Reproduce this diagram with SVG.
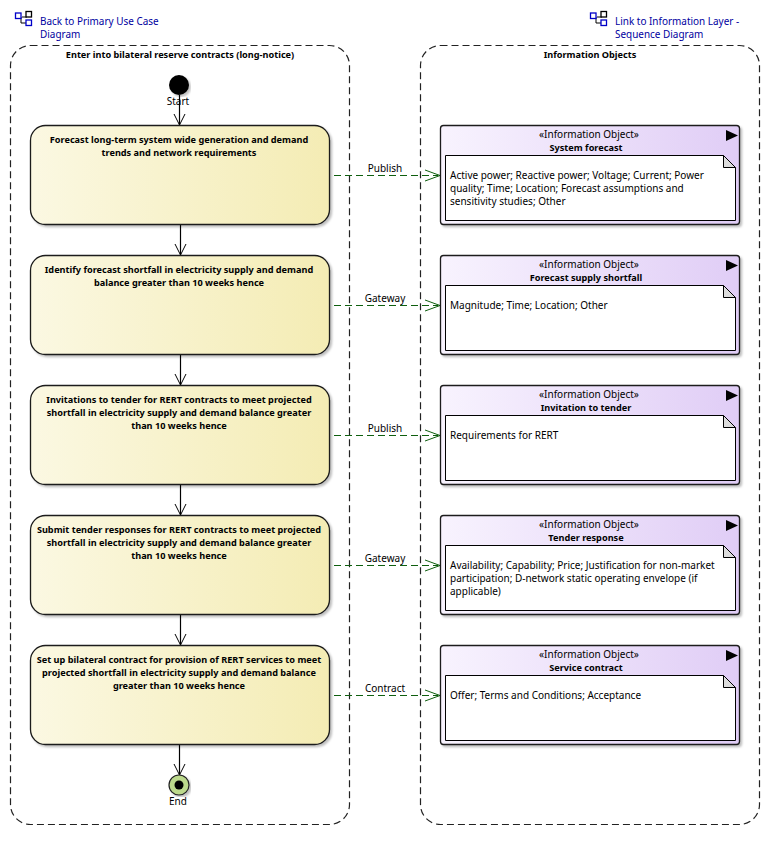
<svg xmlns="http://www.w3.org/2000/svg" width="770" height="841" viewBox="0 0 770 841">
<style>
text{font-family:"Noto Sans","Liberation Sans",sans-serif;font-size:10px;fill:#000}
.b{font-weight:700;font-size:9.17px}
.m{text-anchor:middle}
.link{fill:#0000a0;font-size:9.95px}
.frame{fill:none;stroke:#222;stroke-width:1.2;stroke-dasharray:7 4}
.act{fill:url(#ga);stroke:#1a1a1a;stroke-width:1.3;filter:url(#sh)}
.obj{fill:url(#gb);stroke:#1a1a1a;stroke-width:1.3;filter:url(#sh)}
.note{fill:#fff;stroke:#000;stroke-width:1}
.fold{fill:#ddd;stroke:#000;stroke-width:1}
.flow{fill:none;stroke:#000;stroke-width:1.2;marker-end:url(#oa)}
.info{fill:none;stroke:#0f5f0f;stroke-width:1;stroke-dasharray:7 4}
.ihead{fill:none;stroke:#0f5f0f;stroke-width:1}
.ic{fill:#fff;stroke:#0000c8;stroke-width:1.3}
.ic2{fill:#fff;stroke:#000;stroke-width:1.3}
.icl{fill:none;stroke:#000;stroke-width:1}
</style>
<defs>
<linearGradient id="ga" x1="0" x2="1" y1="0" y2="0"><stop offset="0" stop-color="#fbf8e2"/><stop offset="1" stop-color="#f4ecb4"/></linearGradient>
<linearGradient id="gb" x1="0" x2="1" y1="0" y2="0"><stop offset="0" stop-color="#f8f3fe"/><stop offset="1" stop-color="#e0cdf6"/></linearGradient>
<filter id="sh" x="-5%" y="-5%" width="112%" height="112%"><feDropShadow dx="2" dy="2" stdDeviation="1.2" flood-color="#000" flood-opacity="0.25"/></filter>
<marker id="oa" markerUnits="userSpaceOnUse" markerWidth="14" markerHeight="18" refX="11" refY="7" orient="auto"><path d="M0 1.5L11 7L0 12.5" fill="none" stroke="#000" stroke-width="1"/></marker>
<g id="icon"><path class="icl" d="M7 6H12V3M6 6V12H14"/><rect class="ic" x="0.5" y="2" width="5.5" height="5.5"/><rect class="ic2" x="11" y="0.5" width="5.5" height="5.5"/><rect class="ic" x="11" y="9" width="5.5" height="5.5"/></g>
</defs>

<g id="link-back"><use href="#icon" x="15" y="11"/><text class="link" x="40" y="25">Back to Primary Use Case</text><text class="link" x="40" y="38">Diagram</text></g>
<g id="link-info"><use href="#icon" x="590" y="11"/><text class="link" x="615" y="25">Link to Information Layer -</text><text class="link" x="615" y="38">Sequence Diagram</text></g>

<g id="frame-left"><rect class="frame" x="10.5" y="45.5" width="339" height="779" rx="20"/><text class="b m" x="180" y="58">Enter into bilateral reserve contracts (long-notice)</text></g>
<g id="frame-right"><rect class="frame" x="420.5" y="45.5" width="339" height="779" rx="20"/><text class="b m" x="590" y="58">Information Objects</text></g>

<g id="connectors">
<path class="flow" d="M179.500 95V125"/>
<path class="flow" d="M180.500 224V255"/>
<path class="flow" d="M180.500 354V385"/>
<path class="flow" d="M180.500 484V515"/>
<path class="flow" d="M180.500 614V645"/>
<path class="flow" d="M179.500 744V775"/>
<g id="info-flows">
<path class="info" d="M334 175.500H438"/><path class="ihead" d="M425 170L440 175.500L425 181"/>
<path class="info" d="M334 305.500H438"/><path class="ihead" d="M425 300L440 305.500L425 311"/>
<path class="info" d="M334 435.500H438"/><path class="ihead" d="M425 430L440 435.500L425 441"/>
<path class="info" d="M334 565.500H438"/><path class="ihead" d="M425 560L440 565.500L425 571"/>
<path class="info" d="M334 695.500H438"/><path class="ihead" d="M425 690L440 695.500L425 701"/>
</g>
<text class="m" x="385" y="172">Publish</text>
<text class="m" x="385" y="302">Gateway</text>
<text class="m" x="385" y="432">Publish</text>
<text class="m" x="385" y="562">Gateway</text>
<text class="m" x="385" y="692">Contract</text>
</g>

<g id="start"><circle cx="179" cy="85" r="10" fill="#000" filter="url(#sh)"/><text class="m" x="178" y="105">Start</text></g>

<g id="a1"><rect class="act" x="30.500" y="125.500" width="299" height="99" rx="15"/><text class="b m" x="179" y="143">Forecast long-term system wide generation and demand</text><text class="b m" x="179" y="156">trends and network requirements</text></g>
<g id="a2"><rect class="act" x="30.500" y="255.500" width="299" height="99" rx="15"/><text class="b m" x="179" y="273">Identify forecast shortfall in electricity supply and demand</text><text class="b m" x="179" y="286">balance greater than 10 weeks hence</text></g>
<g id="a3"><rect class="act" x="30.500" y="385.500" width="299" height="99" rx="15"/><text class="b m" x="179" y="403">Invitations to tender for RERT contracts to meet projected</text><text class="b m" x="179" y="416">shortfall in electricity supply and demand balance greater</text><text class="b m" x="179" y="429">than 10 weeks hence</text></g>
<g id="a4"><rect class="act" x="30.500" y="515.500" width="299" height="99" rx="15"/><text class="b m" x="179" y="533">Submit tender responses for RERT contracts to meet projected</text><text class="b m" x="179" y="546">shortfall in electricity supply and demand balance greater</text><text class="b m" x="179" y="559">than 10 weeks hence</text></g>
<g id="a5"><rect class="act" x="30.500" y="645.500" width="299" height="99" rx="15"/><text class="b m" x="179" y="663">Set up bilateral contract for provision of RERT services to meet</text><text class="b m" x="179" y="676">projected shortfall in electricity supply and demand balance</text><text class="b m" x="179" y="689">greater than 10 weeks hence</text></g>

<g id="end"><circle cx="179" cy="785" r="10" fill="#bcd98c" stroke="#222" stroke-width="1.2" filter="url(#sh)"/><circle cx="179" cy="785" r="4.500" fill="#000"/><text class="m" x="178" y="805">End</text></g>

<g id="o1"><rect class="obj" x="440.500" y="125.500" width="299" height="99" rx="3"/><path d="M726 130L738 135.500L726 141Z"/><text class="m" x="589" y="138">«Information Object»</text><text class="b m" x="586" y="151">System forecast</text><path class="note" d="M445.500 155.500H723.500L735.500 167.500V220.500H445.500Z"/><path class="fold" d="M723.500 155.500V167.500H735.500Z"/><text x="450" y="179">Active power; Reactive power; Voltage; Current; Power</text><text x="450" y="192">quality; Time; Location; Forecast assumptions and</text><text x="450" y="205">sensitivity studies; Other</text></g>
<g id="o2"><rect class="obj" x="440.500" y="255.500" width="299" height="99" rx="3"/><path d="M726 260L738 265.500L726 271Z"/><text class="m" x="589" y="268">«Information Object»</text><text class="b m" x="586" y="281">Forecast supply shortfall</text><path class="note" d="M445.500 285.500H723.500L735.500 297.500V350.500H445.500Z"/><path class="fold" d="M723.500 285.500V297.500H735.500Z"/><text x="450" y="309">Magnitude; Time; Location; Other</text></g>
<g id="o3"><rect class="obj" x="440.500" y="385.500" width="299" height="99" rx="3"/><path d="M726 390L738 395.500L726 401Z"/><text class="m" x="589" y="398">«Information Object»</text><text class="b m" x="586" y="411">Invitation to tender</text><path class="note" d="M445.500 415.500H723.500L735.500 427.500V480.500H445.500Z"/><path class="fold" d="M723.500 415.500V427.500H735.500Z"/><text x="450" y="439">Requirements for RERT</text></g>
<g id="o4"><rect class="obj" x="440.500" y="515.500" width="299" height="99" rx="3"/><path d="M726 520L738 525.500L726 531Z"/><text class="m" x="589" y="528">«Information Object»</text><text class="b m" x="586" y="541">Tender response</text><path class="note" d="M445.500 545.500H723.500L735.500 557.500V610.500H445.500Z"/><path class="fold" d="M723.500 545.500V557.500H735.500Z"/><text x="450" y="569">Availability; Capability; Price; Justification for non-market</text><text x="450" y="582">participation; D-network static operating envelope (if</text><text x="450" y="595">applicable)</text></g>
<g id="o5"><rect class="obj" x="440.500" y="645.500" width="299" height="99" rx="3"/><path d="M726 650L738 655.500L726 661Z"/><text class="m" x="589" y="658">«Information Object»</text><text class="b m" x="586" y="671">Service contract</text><path class="note" d="M445.500 675.500H723.500L735.500 687.500V740.500H445.500Z"/><path class="fold" d="M723.500 675.500V687.500H735.500Z"/><text x="450" y="699">Offer; Terms and Conditions; Acceptance</text></g>
</svg>
